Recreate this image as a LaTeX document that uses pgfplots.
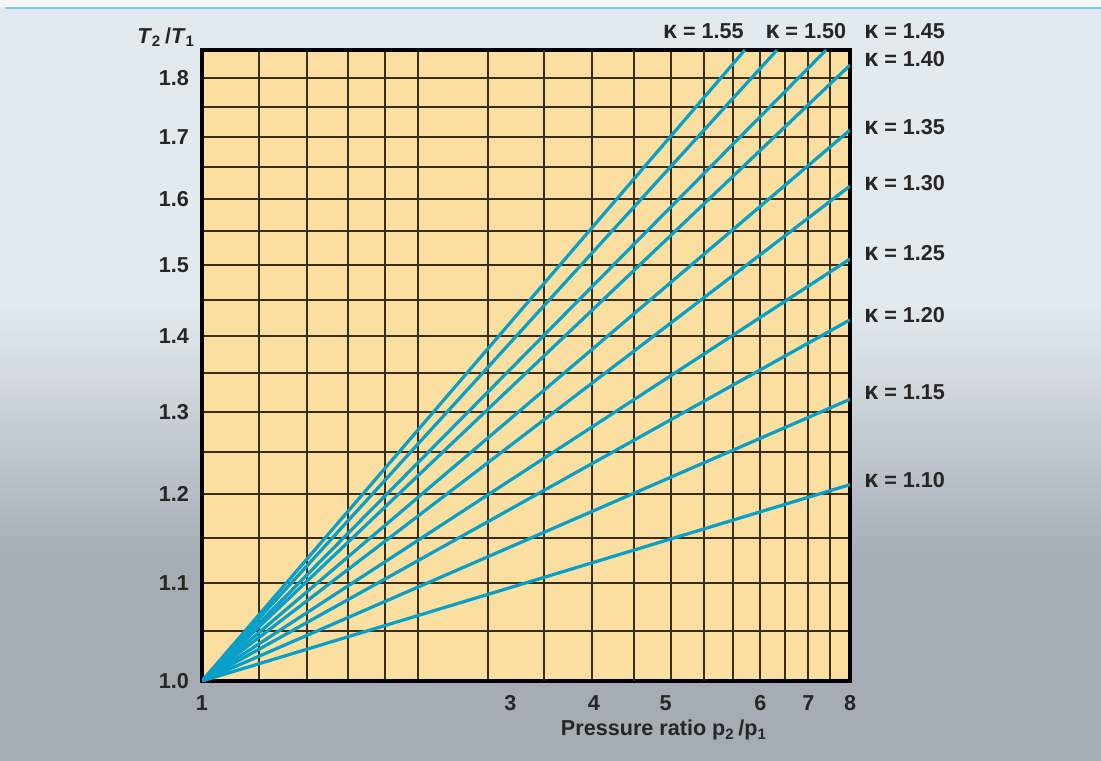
\documentclass[border=0pt]{standalone}
\usepackage{pgfplots}
\pgfplotsset{compat=1.18}
\usepackage{fontspec}
\setmainfont{Liberation Sans}
\definecolor{plotbg}{RGB}{250,223,160}
\definecolor{gridc}{RGB}{58,45,28}
\definecolor{linec}{RGB}{8,160,200}
\definecolor{bgtop}{RGB}{227,234,239}
\definecolor{bgbot}{RGB}{166,172,180}
\definecolor{topline}{RGB}{125,200,235}
\pgfdeclareverticalshading{bgshade}{100bp}{color(0bp)=(bgbot); color(38bp)=(bgbot); color(55bp)=(bgtop); color(100bp)=(bgtop)}
\newcommand{\kap}[1]{{\fontsize{12.5}{13}\selectfont κ} = #1}
\begin{document}
\begin{tikzpicture}[x=1pt,y=1pt]
\useasboundingbox (0,0) rectangle (550.5,380);
\shade[shading=bgshade] (0,0) rectangle (550.5,380);
\fill[white!60!bgtop] (0,376.5) rectangle (550.5,380);
\draw[topline, line width=1.1pt] (2.5,376) -- (550.5,376);
\begin{axis}[
  at={(101pt,39.5pt)}, anchor=south west,
  width=324pt, height=315.5pt, scale only axis,
  xmode=log, ymode=log,
  xmin=1, xmax=8, ymin=1, ymax=1.85,
  enlargelimits=false,
  axis background/.style={fill=plotbg},
  axis line style={line width=2pt, black},
  major tick length=0pt, minor tick length=0pt,
  xtick={1,6,7,8}, xticklabels={1,6,7,8},
  extra x ticks={3,4,5},
  extra x tick labels={\makebox[0pt]{\hspace{6pt}3},4,\makebox[0pt]{\hspace{2pt}5}},
  extra x tick style={xticklabel style={xshift=-20pt}},
  minor xtick={1.2,1.4,1.6,1.8,2,2.5,3,3.5,4,4.5,5,5.5,6,6.5,7,7.5},
  ytick={1,1.1,1.2,1.3,1.4,1.5,1.6,1.7,1.8},
  yticklabels={1.0,1.1,1.2,1.3,1.4,1.5,1.6,1.7,1.8},
  minor ytick={1.05,1.15,1.25,1.35,1.45,1.55,1.65,1.75},
  xmajorgrids, ymajorgrids, xminorgrids, yminorgrids,
  major grid style={gridc, line width=1pt},
  minor grid style={gridc, line width=1pt},
  ticklabel style={font=\bfseries\fontsize{10.8}{12}\selectfont, text=black!85},
  xticklabel style={anchor=north, text height=8pt, text depth=0pt, yshift=-3pt},
  yticklabel style={xshift=-3pt},
  clip=true,
]
\addplot[linec, line width=1.6pt] coordinates {(1,1) (8,1.211)};
\addplot[linec, line width=1.6pt] coordinates {(1,1) (8,1.316)};
\addplot[linec, line width=1.6pt] coordinates {(1,1) (8,1.422)};
\addplot[linec, line width=1.6pt] coordinates {(1,1) (8,1.509)};
\addplot[linec, line width=1.6pt] coordinates {(1,1) (8,1.620)};
\addplot[linec, line width=1.6pt] coordinates {(1,1) (8,1.711)};
\addplot[linec, line width=1.6pt] coordinates {(1,1) (8,1.823)};
\addplot[linec, line width=1.6pt] coordinates {(1,1) (7.41,1.85)};
\addplot[linec, line width=1.6pt] coordinates {(1,1) (6.33,1.85)};
\addplot[linec, line width=1.6pt] coordinates {(1,1) (5.71,1.85)};
\end{axis}
\begin{scope}[shift={(101pt,39.5pt)}, x=324pt, y=315.5pt, every node/.style={font=\bfseries\fontsize{10.8}{12}\selectfont, text=black!85, inner sep=0pt}]
\node[anchor=west] at (1.0216,1.030) {\kap{1.45}};
\node[anchor=west] at (0.869,1.030) {\kap{1.50}};
\node[anchor=west] at (0.711,1.030) {\kap{1.55}};
\node[anchor=west] at (1.0216,0.986) {\kap{1.40}};
\node[anchor=west] at (1.0216,0.878) {\kap{1.35}};
\node[anchor=west] at (1.0216,0.789) {\kap{1.30}};
\node[anchor=west] at (1.0216,0.678) {\kap{1.25}};
\node[anchor=west] at (1.0216,0.580) {\kap{1.20}};
\node[anchor=west] at (1.0216,0.458) {\kap{1.15}};
\node[anchor=west] at (1.0216,0.3185) {\kap{1.10}};
\node[anchor=base east] at (-0.01,1.01) {\textit{T}\textsubscript{2}\,/\textit{T}\textsubscript{1}};
\node[anchor=base] at (0.713,-0.087) {Pressure ratio p\textsubscript{2}\,/p\textsubscript{1}};
\end{scope}
\end{tikzpicture}
\end{document}
